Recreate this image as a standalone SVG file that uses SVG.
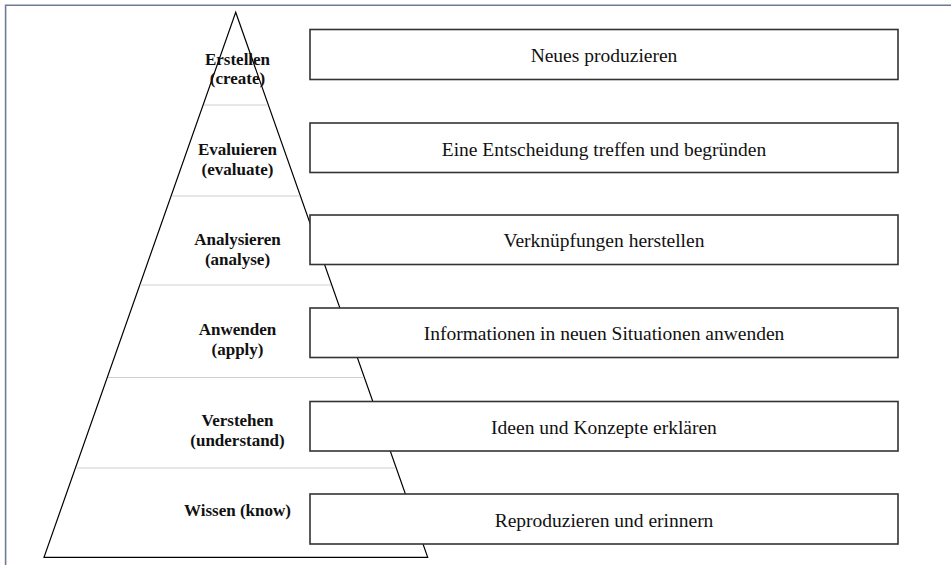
<svg xmlns="http://www.w3.org/2000/svg" width="951" height="565" viewBox="0 0 951 565">
  <style>
    .frame { stroke: #6e7b96; stroke-width: 1.6; fill: none; }
    .pyramid { fill: #ffffff; stroke: #000000; stroke-width: 1.2; stroke-linejoin: miter; }
    .divider { stroke: #cfcfcf; stroke-width: 1; }
    .level { font-family: "Liberation Serif", "Times New Roman", serif; font-weight: bold; font-size: 17px; fill: #111111; text-anchor: middle; }
    .box { fill: #ffffff; stroke: #333333; stroke-width: 1.6; }
    .desc { font-family: "Liberation Serif", "Times New Roman", serif; font-size: 19.5px; fill: #111111; text-anchor: middle; }
  </style>

  <rect width="951" height="565" fill="#ffffff"/>

  <!-- outer frame: top and left rules -->
  <path class="frame" d="M5.6 565 V5.2 H951"/>

  <!-- pyramid with level separators -->
  <g id="pyramid">
    <polygon class="pyramid" points="235.7,12.3 427.7,557.3 44,557.3"/>
    <line class="divider" x1="204" y1="105" x2="267.5" y2="105"/>
    <line class="divider" x1="172" y1="196" x2="299.5" y2="196"/>
    <line class="divider" x1="140.5" y1="285" x2="331" y2="285"/>
    <line class="divider" x1="108" y1="377.5" x2="363.5" y2="377.5"/>
    <line class="divider" x1="76.5" y1="468" x2="395" y2="468"/>
  </g>

  <!-- level labels -->
  <g id="level-create">
    <text class="level" x="237.5" y="65">Erstellen</text>
    <text class="level" x="237.5" y="84">(create)</text>
  </g>
  <g id="level-evaluate">
    <text class="level" x="237.5" y="155">Evaluieren</text>
    <text class="level" x="237.5" y="175">(evaluate)</text>
  </g>
  <g id="level-analyse">
    <text class="level" x="237.5" y="245">Analysieren</text>
    <text class="level" x="237.5" y="265">(analyse)</text>
  </g>
  <g id="level-apply">
    <text class="level" x="237.5" y="335">Anwenden</text>
    <text class="level" x="237.5" y="355">(apply)</text>
  </g>
  <g id="level-understand">
    <text class="level" x="237.5" y="426">Verstehen</text>
    <text class="level" x="237.5" y="446">(understand)</text>
  </g>
  <g id="level-know">
    <text class="level" x="237.5" y="516">Wissen (know)</text>
  </g>

  <!-- description boxes -->
  <g id="desc-create">
    <rect class="box" x="310" y="29.5" width="588" height="50"/>
    <text class="desc" x="604" y="62">Neues produzieren</text>
  </g>
  <g id="desc-evaluate">
    <rect class="box" x="310" y="123" width="588" height="49.5"/>
    <text class="desc" x="604" y="155.5">Eine Entscheidung treffen und begründen</text>
  </g>
  <g id="desc-analyse">
    <rect class="box" x="310" y="215" width="588" height="49.5"/>
    <text class="desc" x="604" y="247">Verknüpfungen herstellen</text>
  </g>
  <g id="desc-apply">
    <rect class="box" x="310" y="308" width="588" height="49.5"/>
    <text class="desc" x="604" y="340">Informationen in neuen Situationen anwenden</text>
  </g>
  <g id="desc-understand">
    <rect class="box" x="310" y="401.5" width="588" height="49.5"/>
    <text class="desc" x="604" y="433.5">Ideen und Konzepte erklären</text>
  </g>
  <g id="desc-know">
    <rect class="box" x="310" y="494" width="588" height="50"/>
    <text class="desc" x="604" y="526.5">Reproduzieren und erinnern</text>
  </g>
</svg>
